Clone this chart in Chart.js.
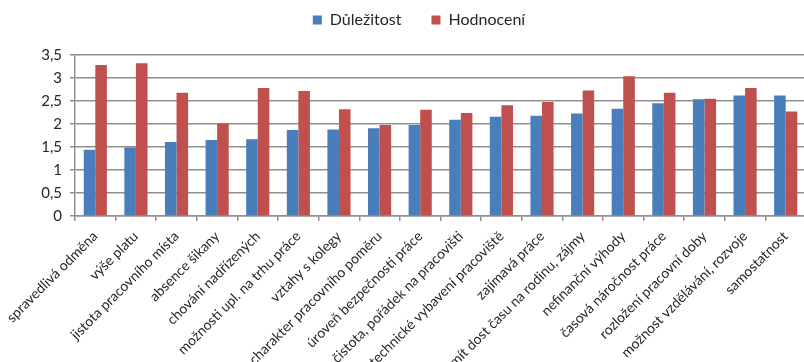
<!DOCTYPE html>
<html>
<head>
<meta charset="utf-8">
<script src="https://cdn.jsdelivr.net/npm/chart.js@4/dist/chart.umd.min.js"></script>
<style>
  html, body { margin: 0; padding: 0; background: #fff; overflow: hidden; }
  #wrap { position: absolute; left: 0; top: 0; width: 808px; height: 362px; }
</style>
</head>
<body>
<div id="wrap"><canvas id="c"></canvas></div>
<script>
// Job factors: importance vs. rating
const categories = [
  'spravedlivá odměna',
  'výše platu',
  'jistota pracovního místa',
  'absence šikany',
  'chování nadřízených',
  'možnosti upl. na trhu práce',
  'vztahy s kolegy',
  'charakter pracovního poměru',
  'úroveň bezpečnosti práce',
  'čistota, pořádek na pracovišti',
  'technické vybavení pracoviště',
  'zajímavá práce',
  'mít dost času na rodinu, zájmy',
  'nefinanční výhody',
  'časová náročnost práce',
  'rozložení pracovní doby',
  'možnost vzdělávání, rozvoje',
  'samostatnost'
];
const seriesNames = ['Důležitost', 'Hodnocení'];
const importance = [1.44, 1.49, 1.61, 1.65, 1.67, 1.87, 1.88, 1.91, 1.98, 2.09, 2.16, 2.18, 2.23, 2.33, 2.45, 2.54, 2.62, 2.62];
const rating     = [3.28, 3.32, 2.68, 2.01, 2.78, 2.72, 2.32, 1.98, 2.31, 2.24, 2.41, 2.48, 2.73, 3.04, 2.68, 2.55, 2.78, 2.27];
const yTicks = [0, 0.5, 1, 1.5, 2, 2.5, 3, 3.5];

const BLUE = '#4a7ebb';
const RED = '#c0504d';
const GRID = '#8f8f8f';
const TEXT = '#262626';

Chart.defaults.font.family = 'Lato, "Open Sans", sans-serif';
Chart.defaults.color = TEXT;

// Fixed band above the plot for the legend, with the legend nudged right
const legendBand = {
  id: 'legendBand',
  beforeLayout(chart) {
    const lg = chart.legend;
    if (lg && !lg._bandWrapped) {
      const fit = lg.fit.bind(lg);
      const draw = lg.draw.bind(lg);
      lg.fit = function () { fit(); this.height = 73; };
      lg.draw = function (area) {
        const ctx = this.ctx;
        ctx.save();
        ctx.translate(16, 0);
        draw(area);
        ctx.restore();
      };
      lg._bandWrapped = true;
    }
  }
};

new Chart(document.getElementById('c'), {
  type: 'bar',
  data: {
    labels: categories,
    datasets: [
      { label: seriesNames[0], data: importance, backgroundColor: BLUE, borderWidth: 0 },
      { label: seriesNames[1], data: rating, backgroundColor: RED, borderWidth: 0 }
    ]
  },
  options: {
    responsive: true,
    maintainAspectRatio: false,
    animation: false,
    layout: { padding: { top: -18, right: 2, left: 0, bottom: 0 } },
    datasets: { bar: { categoryPercentage: 0.57, barPercentage: 1.0 } },
    plugins: {
      legend: {
        position: 'top',
        labels: {
          boxWidth: 9,
          boxHeight: 9,
          padding: 30,
          color: TEXT,
          font: { size: 16 }
        }
      },
      tooltip: { enabled: false }
    },
    scales: {
      x: {
        offset: true,
        grid: { drawOnChartArea: false, drawTicks: true, tickLength: 5, color: GRID, lineWidth: 1.5, offset: true },
        border: { display: true, color: GRID, width: 1.5 },
        ticks: { autoSkip: false, minRotation: 45, maxRotation: 45, padding: 7, color: TEXT, font: { size: 14 } },
        afterFit(scale) { scale.height = 146; }
      },
      y: {
        min: 0,
        max: 3.5,
        afterBuildTicks(scale) { scale.ticks = yTicks.map(v => ({ value: v })); },
        grid: { color: GRID, lineWidth: 1.5, tickLength: 5 },
        border: { display: true, color: GRID, width: 1.5 },
        ticks: {
          padding: 8,
          color: TEXT,
          font: { size: 15 },
          callback: v => String(v).replace('.', ',')
        },
        afterFit(scale) { scale.width = 75; }
      }
    }
  },
  plugins: [legendBand]
});
</script>
</body>
</html>
